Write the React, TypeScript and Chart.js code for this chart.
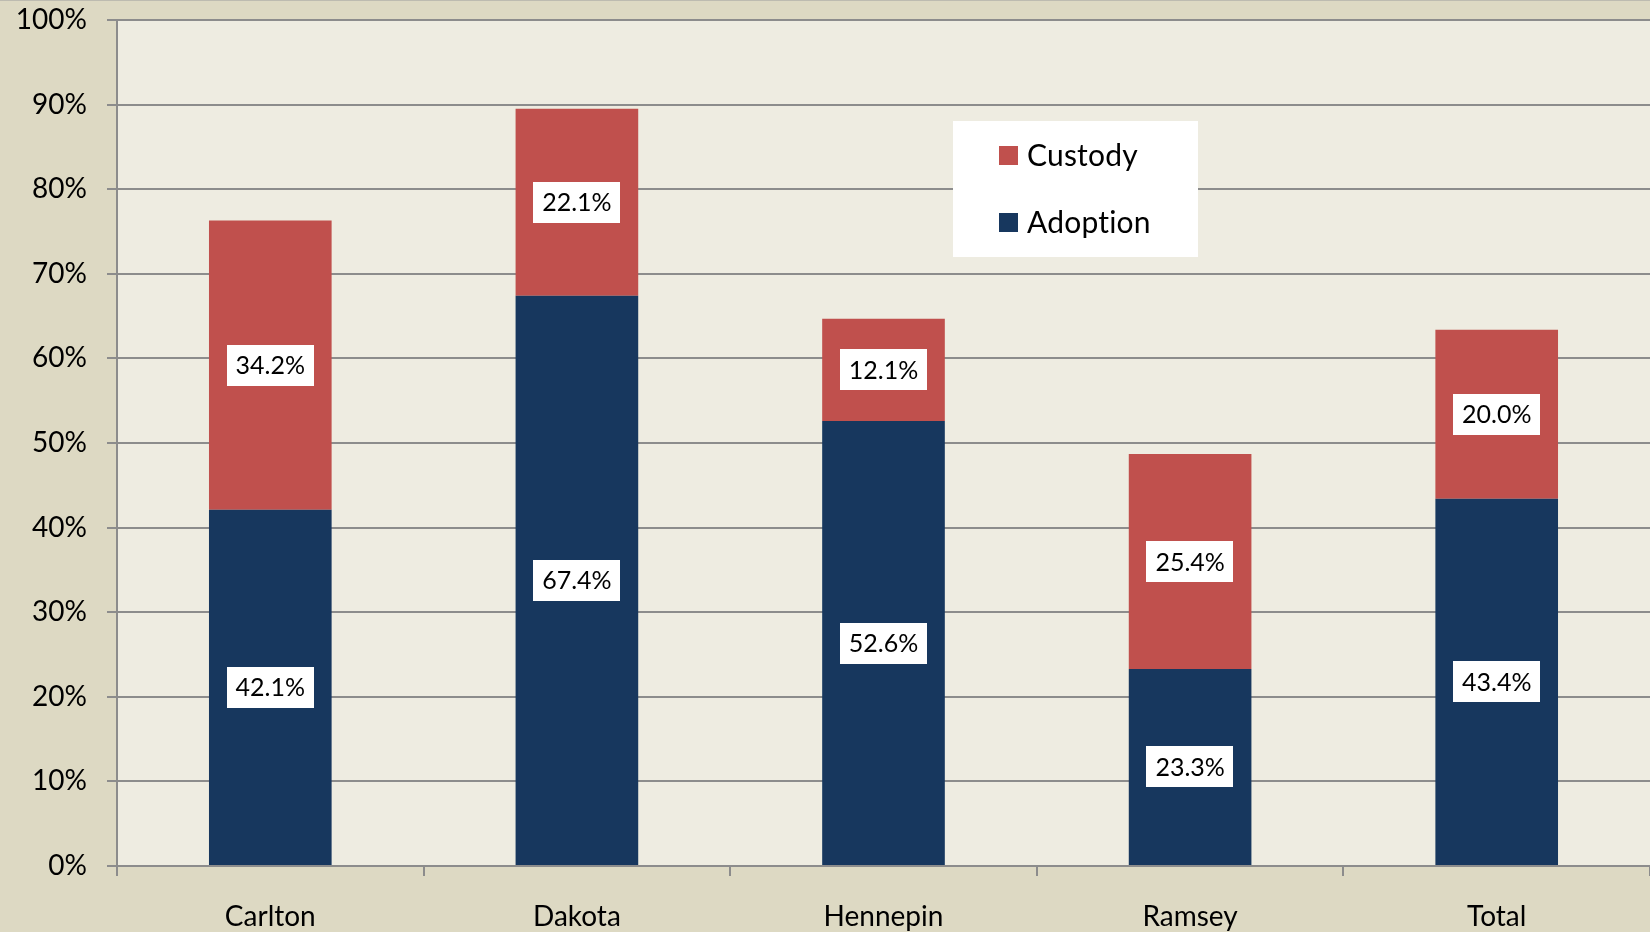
import React, { useEffect, useRef } from "react";
import { Chart, registerables } from "chart.js";

Chart.register(...registerables);

const categories = ["Carlton", "Dakota", "Hennepin", "Ramsey", "Total"];
const adoptionValues = [42.1, 67.4, 52.6, 23.3, 43.4];
const custodyValues = [34.2, 22.1, 12.1, 25.4, 20.0];
const seriesNames = ["Adoption", "Custody"];
const seriesColors = ["#17375E", "#C0504D"];

const FONT = "Lato, 'Noto Sans', sans-serif";
const GRID = "#8C8C8C";

const bgPlugin = {
  id: "bgPlugin",
  beforeDraw(chart: any) {
    const { ctx, chartArea, width, height } = chart;
    ctx.save();
    ctx.fillStyle = "#DDD9C3";
    ctx.fillRect(0, 0, width, height);
    ctx.fillStyle = "#BDBBB0";
    ctx.fillRect(0, 0, width, 1);
    ctx.fillStyle = "#EEECE1";
    ctx.fillRect(chartArea.left, chartArea.top, chartArea.right - chartArea.left, chartArea.bottom - chartArea.top);
    ctx.restore();
  },
};

const labelPlugin = {
  id: "labelPlugin",
  afterDatasetsDraw(chart: any) {
    const { ctx } = chart;
    ctx.save();
    ctx.font = `25px ${FONT}`;
    ctx.textAlign = "center";
    ctx.textBaseline = "middle";
    chart.data.datasets.forEach((ds: any, i: number) => {
      const meta = chart.getDatasetMeta(i);
      meta.data.forEach((bar: any, j: number) => {
        const { x, y, base } = bar.getProps(["x", "y", "base"], true);
        const cy = (y + base) / 2;
        const text = Number(ds.data[j]).toFixed(1) + "%";
        const tw = ctx.measureText(text).width;
        const w = tw + 18;
        const h = 41;
        ctx.fillStyle = "#FFFFFF";
        ctx.fillRect(Math.round(x - w / 2), Math.round(cy - h / 2), Math.round(w), h);
        ctx.fillStyle = "#000000";
        ctx.fillText(text, x, cy + 1);
      });
    });
    ctx.restore();
  },
};

const legendPlugin = {
  id: "legendPlugin",
  afterDraw(chart: any) {
    const { ctx } = chart;
    ctx.save();
    ctx.fillStyle = "#FFFFFF";
    ctx.fillRect(953, 121, 245, 136);
    const items = [
      { name: seriesNames[1], color: seriesColors[1], cy: 155 },
      { name: seriesNames[0], color: seriesColors[0], cy: 222 },
    ];
    ctx.font = `30px ${FONT}`;
    try {
      (ctx as any).letterSpacing = "0.2px";
    } catch (e) {}
    ctx.textAlign = "left";
    ctx.textBaseline = "middle";
    items.forEach((it) => {
      ctx.fillStyle = it.color;
      ctx.fillRect(999, it.cy - 9, 19, 19);
      ctx.fillStyle = "#000000";
      ctx.fillText(it.name, 1027, it.cy + 1);
    });
    ctx.restore();
  },
};

export default function App() {
  const ref = useRef<HTMLCanvasElement | null>(null);
  useEffect(() => {
    document.body.style.margin = "0";
    if (!ref.current) return;
    const chart = new Chart(ref.current, {
      type: "bar",
      data: {
        labels: categories,
        datasets: [
          {
            label: seriesNames[0],
            data: adoptionValues,
            backgroundColor: seriesColors[0],
            categoryPercentage: 1,
            barPercentage: 0.4,
          },
          {
            label: seriesNames[1],
            data: custodyValues,
            backgroundColor: seriesColors[1],
            categoryPercentage: 1,
            barPercentage: 0.4,
          },
        ],
      },
      options: {
        responsive: false,
        animation: false,
        devicePixelRatio: 1,
        layout: { padding: { top: 20, right: 0, left: 0, bottom: 0 } },
        plugins: {
          legend: { display: false },
          tooltip: { enabled: false },
        },
        scales: {
          x: {
            stacked: true,
            afterFit(scale: any) {
              scale.height = 66;
              scale.paddingLeft = 0;
              scale.paddingRight = 0;
            },
            grid: {
              display: true,
              drawOnChartArea: false,
              drawTicks: true,
              tickLength: 10,
              offset: true,
              color: GRID,
              lineWidth: 2,
            },
            border: { display: true, color: GRID, width: 2 },
            ticks: {
              color: "#000000",
              font: { family: FONT, size: 28 },
              padding: 24,
            },
          },
          y: {
            stacked: true,
            min: 0,
            max: 100,
            afterFit(scale: any) {
              scale.width = 117;
              scale.paddingTop = 0;
              scale.paddingBottom = 0;
            },
            grid: {
              color: GRID,
              lineWidth: 2,
              drawTicks: true,
              tickLength: 10,
            },
            border: { display: true, color: GRID, width: 2 },
            ticks: {
              stepSize: 10,
              color: "#000000",
              font: { family: FONT, size: 28 },
              padding: 20,
              callback: (v: any) => v + "%",
            },
          },
        },
      },
      plugins: [bgPlugin, labelPlugin, legendPlugin],
    });
    return () => chart.destroy();
  }, []);
  return (
    <div style={{ width: 1650, height: 932 }}>
      <canvas ref={ref} width={1650} height={932} style={{ display: "block" }} />
    </div>
  );
}
